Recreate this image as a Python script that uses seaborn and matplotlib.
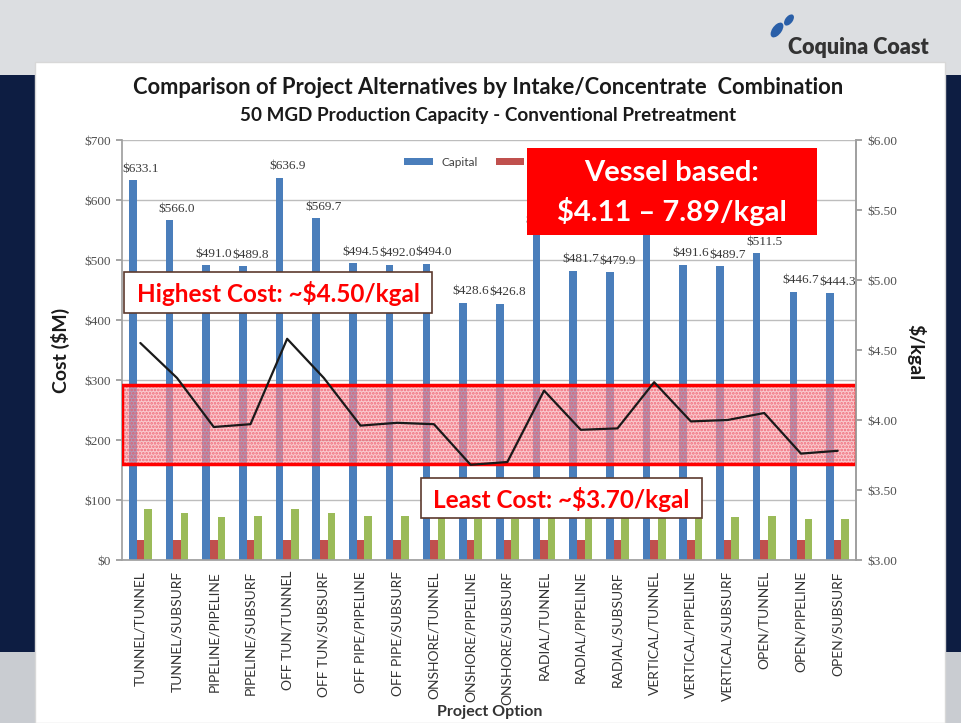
import numpy as np
import pandas as pd
import matplotlib
matplotlib.use("Agg")
import matplotlib.pyplot as plt
from matplotlib.patches import Rectangle, Ellipse
import seaborn as sns

categories = ["TUNNEL/TUNNEL", "TUNNEL/SUBSURF", "PIPELINE/PIPELINE", "PIPELINE/SUBSURF",
              "OFF TUN/TUNNEL", "OFF TUN/SUBSURF", "OFF PIPE/PIPELINE", "OFF PIPE/SUBSURF",
              "ONSHORE/TUNNEL", "ONSHORE/PIPELINE", "ONSHORE/SUBSURF", "RADIAL/TUNNEL",
              "RADIAL/PIPELINE", "RADIAL/SUBSURF", "VERTICAL/TUNNEL", "VERTICAL/PIPELINE",
              "VERTICAL/SUBSURF", "OPEN/TUNNEL", "OPEN/PIPELINE", "OPEN/SUBSURF"]
capital = [633.1, 566.0, 491.0, 489.8, 636.9, 569.7, 494.5, 492.0, 494.0, 428.6,
           426.8, 548.0, 481.7, 479.9, 548.0, 491.6, 489.7, 511.5, 446.7, 444.3]
capital_labels = ["$633.1", "$566.0", "$491.0", "$489.8", "$636.9", "$569.7", "$494.5", "$492.0",
                  "$494.0", "$428.6", "$426.8", "$548.0", "$481.7", "$479.9", "$548.0", "$491.6",
                  "$489.7", "$511.5", "$446.7", "$444.3"]
om_cost = [34, 34, 34, 34, 34, 34, 34, 34, 34, 34,
           34, 34, 34, 34, 34, 34, 34, 34, 34, 34]
other_cost = [85, 79, 72, 73, 85, 79, 73, 73, 73, 68,
              68, 70, 70, 70, 70, 72, 72, 73, 69, 69]
cost_per_kgal = [4.55, 4.30, 3.95, 3.97, 4.58, 4.30, 3.96, 3.98, 3.97, 3.68,
                 3.70, 4.21, 3.93, 3.94, 4.27, 3.99, 4.00, 4.05, 3.76, 3.78]
series_names = ["Capital", "O&M", "Energy"]
series_colors = ["#4a7ebb", "#c0504d", "#9bbb59"]
left_ticks = [0, 100, 200, 300, 400, 500, 600, 700]
left_tick_labels = ["$0", "$100", "$200", "$300", "$400", "$500", "$600", "$700"]
right_ticks = [3.0, 3.5, 4.0, 4.5, 5.0, 5.5, 6.0]
right_tick_labels = ["$3.00", "$3.50", "$4.00", "$4.50", "$5.00", "$5.50", "$6.00"]

df = pd.DataFrame({
    "option": categories * 3,
    "series": [series_names[0]] * 20 + [series_names[1]] * 20 + [series_names[2]] * 20,
    "value": capital + om_cost + other_cost,
})

sns.set_theme(style="white")
plt.rcParams["font.family"] = ["Lato", "DejaVu Sans"]
SERIF = ["Liberation Serif", "DejaVu Serif"]

W, H = 961, 723
fig = plt.figure(figsize=(W / 100, H / 100), dpi=100)
fig.patch.set_facecolor("#0d1d42")

def fx(x):
    return x / W

def fy(y):
    return 1 - y / H

# slide background
fig.add_artist(Rectangle((0, fy(75)), 1, 75 / H, transform=fig.transFigure,
                         facecolor="#dcdee1", edgecolor="none", zorder=-5))
fig.add_artist(Rectangle((0, 0), 1, fy(652), transform=fig.transFigure,
                         facecolor="#c9ccd1", edgecolor="none", zorder=-5))
fig.add_artist(Rectangle((fx(35), 0), fx(945) - fx(35), fy(62), transform=fig.transFigure,
                         facecolor="white", edgecolor="#d8d8d8", lw=1, zorder=-4))

# logo
fig.add_artist(Ellipse((fx(777), fy(30)), 10 / W, 16 / H, transform=fig.transFigure,
                       facecolor="#2a5fa8", edgecolor="none", angle=-25))
fig.add_artist(Ellipse((fx(789), fy(20)), 8 / W, 12 / H, transform=fig.transFigure,
                       facecolor="#2a5fa8", edgecolor="none", angle=-25))
fig.text(fx(858), fy(48), "Coquina Coast", ha="center", va="center", fontsize=15.5,
         fontweight="heavy", color="#333333")

# main axes
ax = fig.add_axes([fx(122), fy(560), fx(856) - fx(122), (560 - 140) / H])
ax.set_facecolor("none")
sns.barplot(data=df, x="option", y="value", hue="series", hue_order=series_names,
            palette=series_colors, width=0.62, ax=ax, linewidth=0, saturation=1,
            errorbar=None)
ax.set_xlim(-0.5, 19.5)
ax.set_ylim(0, 700)
ax.set_yticks(left_ticks)
ax.set_yticklabels(left_tick_labels, family=SERIF, fontsize=9.5, color="#505050")
ax.set_xticks(range(20))
ax.set_xticklabels(categories, rotation=90, fontsize=10, color="#333333")
ax.set_xticks(np.arange(-0.5, 20, 1), minor=True)
ax.tick_params(axis="x", which="major", length=0, pad=8)
ax.tick_params(axis="x", which="minor", length=4, color="#999999", direction="out")
ax.tick_params(axis="y", length=4, color="#999999", direction="out", pad=4, left=True)
ax.grid(axis="y", color="#bdbdbd", lw=1)
ax.set_axisbelow(True)
ax.spines["top"].set_visible(False)
for s in ["left", "bottom", "right"]:
    ax.spines[s].set_color("#a0a0a0")
ax.set_xlabel("")
ax.set_ylabel("")

# capital labels
for i, (v, lab) in enumerate(zip(capital, capital_labels)):
    ax.annotate(lab, (i, v), xytext=(0, 4), textcoords="offset points", ha="center",
                va="bottom", fontsize=9.5, color="#3a3a3a", family=SERIF)

leg = ax.legend(loc="upper left", bbox_to_anchor=(0.37, 0.985), ncol=3, frameon=False,
                fontsize=8.5, handlelength=2.4, handleheight=0.5, columnspacing=1.5)
for t in leg.get_texts():
    t.set_color("#404040")

# secondary axis
ax2 = ax.twinx()
ax2.set_ylim(3, 6)
ax2.set_yticks(right_ticks)
ax2.set_yticklabels(right_tick_labels, family=SERIF, fontsize=9.5, color="#505050")
ax2.tick_params(axis="y", length=4, color="#999999", direction="out", pad=4, right=True)
ax2.grid(False)
for s in ["top", "left", "bottom"]:
    ax2.spines[s].set_visible(False)
ax2.spines["right"].set_color("#a0a0a0")

plt.rcParams["hatch.linewidth"] = 1.3
ax2.axhspan(3.686, 4.25, facecolor=(0.97, 0.66, 0.69, 0.6), edgecolor=(0.93, 0.30, 0.36, 0.75),
            hatch=".....", lw=0, zorder=1)
ax2.axhspan(3.686, 4.25, facecolor="none", edgecolor="#ff0000", lw=2.5, zorder=2)
sns.lineplot(x=np.arange(20), y=cost_per_kgal, ax=ax2, color="#1a1a1a", lw=1.6, zorder=3)
ax2.set_xlim(-0.5, 19.5)

# axis labels
fig.text(fx(60), fy(350), "Cost ($M)", rotation=90, ha="center", va="center",
         fontsize=14, fontweight="bold", color="#1a1a1a")
fig.text(fx(916), fy(352), "$/kgal", rotation=270, ha="center", va="center",
         fontsize=14, fontweight="bold", color="#1a1a1a")
fig.text(fx(490), fy(712), "Project Option", ha="center", va="center",
         fontsize=11.5, fontweight="bold", color="#333333")

# titles
fig.text(fx(488), fy(88), "Comparison of Project Alternatives by Intake/Concentrate  Combination",
         ha="center", va="center", fontsize=15.8, fontweight="bold", color="#1a1a1a")
fig.text(fx(488), fy(115), "50 MGD Production Capacity - Conventional Pretreatment",
         ha="center", va="center", fontsize=13.6, fontweight="bold", color="#1a1a1a")

# callouts
def box(x0, y0, x1, y1, fc, ec, lw):
    fig.add_artist(Rectangle((fx(x0), fy(y1)), fx(x1) - fx(x0), (y1 - y0) / H,
                             transform=fig.transFigure, facecolor=fc, edgecolor=ec,
                             lw=lw, zorder=5))

box(124, 272, 432, 313, "white", "#5c3a2e", 1.2)
fig.text(fx(278), fy(294), "Highest Cost: ~$4.50/kgal", ha="center", va="center",
         fontsize=17.5, fontweight="bold", color="#ff0000", zorder=6)
box(421, 478, 702, 518, "white", "#5c3a2e", 1.2)
fig.text(fx(561), fy(499), "Least Cost: ~$3.70/kgal", ha="center", va="center",
         fontsize=17.5, fontweight="bold", color="#ff0000", zorder=6)
box(527, 148, 817, 235, "#ff0000", "none", 0)
fig.text(fx(672), fy(173), "Vessel based:", ha="center", va="center",
         fontsize=21, fontweight="bold", color="white", zorder=6)
fig.text(fx(672), fy(211), "$4.11 \u2013 7.89/kgal", ha="center", va="center",
         fontsize=21, fontweight="bold", color="white", zorder=6)

fig.savefig("out.png", dpi=100, facecolor=fig.get_facecolor())
